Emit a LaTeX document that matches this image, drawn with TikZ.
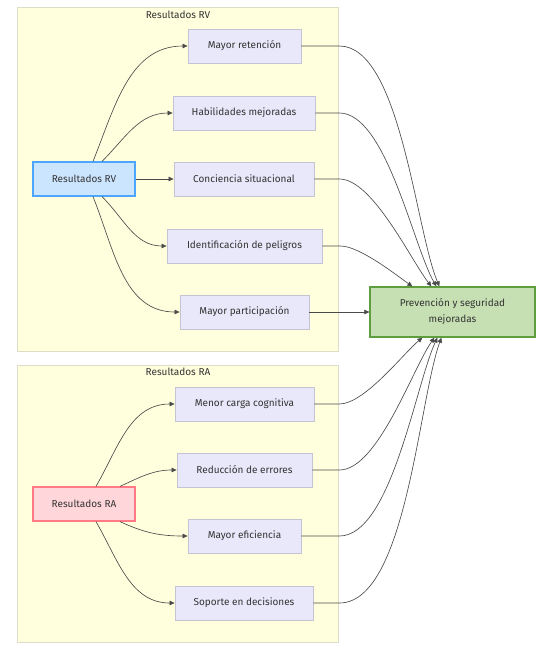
\documentclass[tikz,border=0pt]{standalone}
\usepackage{fontspec}
\setmainfont{Fira Sans}
\usepackage{tikz}
\usetikzlibrary{arrows.meta,calc}
\definecolor{grupofill}{HTML}{FFFFDE}
\definecolor{grupoline}{HTML}{DEDEC8}
\definecolor{nodofill}{HTML}{E8E8FA}
\definecolor{nodoline}{HTML}{C4C4D4}
\definecolor{rvfill}{HTML}{CCE5FF}
\definecolor{rvline}{HTML}{4DA6FF}
\definecolor{rafill}{HTML}{FFD6D9}
\definecolor{raline}{HTML}{FF7A85}
\definecolor{prevfill}{HTML}{C6E0B4}
\definecolor{prevline}{HTML}{5E9E3E}
\definecolor{texto}{HTML}{333333}
\definecolor{linea}{HTML}{4A4A4A}

\begin{document}
\begin{tikzpicture}[x=1pt,y=-1pt,font=\fontsize{10}{12.5}\selectfont,text=texto,
grupo/.style={fill=grupofill,draw=grupoline,line width=0.8pt},
nodo/.style={rectangle,draw=nodoline,fill=nodofill,line width=0.8pt,minimum width=#1,minimum height=34pt,inner sep=0pt},
flecha/.style={draw=linea,line width=0.65pt,-{Triangle[length=5pt,width=4.5pt]}}]
\path[use as bounding box] (0,0) rectangle (543,649);
% grupos
\draw[grupo] (17,7) rectangle (338,351);
\node at (178,15) {Resultados RV};
\draw[grupo] (17,365) rectangle (338,642);
\node at (178,372) {Resultados RA};
% nodos
\node[nodo=102pt,fill=rvfill,draw=rvline,line width=1.2pt] (rv) at (84,179) {Resultados RV};
\node[nodo=102pt,fill=rafill,draw=raline,line width=1.2pt] (ra) at (84,504) {Resultados RA};
\node[nodo=113pt] (ret) at (244.5,46) {Mayor retención};
\node[nodo=142pt] (hab) at (244,113) {Habilidades mejoradas};
\node[nodo=140pt] (con) at (244,179) {Conciencia situacional};
\node[nodo=155pt] (pel) at (244.5,246) {Identificación de peligros};
\node[nodo=129pt] (par) at (244.5,312) {Mayor participación};
\node[nodo=139pt] (car) at (244.5,404) {Menor carga cognitiva};
\node[nodo=135pt] (err) at (244.5,470) {Reducción de errores};
\node[nodo=113pt] (efi) at (244.5,536) {Mayor eficiencia};
\node[nodo=138pt] (sop) at (244,603) {Soporte en decisiones};
\node[nodo=165pt,minimum height=50pt,fill=prevfill,draw=prevline,line width=1.2pt,align=center,font=\fontsize{10}{16}\selectfont] (prev) at (452.5,312) {Prevención y seguridad\\mejoradas};
% RV hacia la derecha
\draw[flecha] ($(rv.north)+(9,0)$) to[out=68,in=180] (ret.west);
\draw[flecha] ($(rv.north)+(18,0)$) to[out=45,in=180] (hab.west);
\draw[flecha] (rv.east) -- (con.west);
\draw[flecha] ($(rv.south)+(18,0)$) to[out=-45,in=180] (pel.west);
\draw[flecha] ($(rv.south)+(9,0)$) to[out=-68,in=180] (par.west);
% RA hacia la derecha
\draw[flecha] ($(ra.north)+(12,0)$) to[out=60,in=180] (car.west);
\draw[flecha] ($(ra.north)+(36,0)$) to[out=25,in=180] (err.west);
\draw[flecha] ($(ra.south)+(36,0)$) to[out=-25,in=180] (efi.west);
\draw[flecha] ($(ra.south)+(12,0)$) to[out=-60,in=180] (sop.west);
% hacia prevencion
\draw[flecha] (ret.east) -- ++(38,0) to[out=0,in=113,looseness=0.6] ($(prev.north west)+(70,0)$);
\draw[flecha] (hab.east) -- ++(24,0) to[out=0,in=120,looseness=0.6] ($(prev.north west)+(67,0)$);
\draw[flecha] (con.east) -- ++(25,0) to[out=0,in=128,looseness=0.6] ($(prev.north west)+(62,0)$);
\draw[flecha] (pel.east) -- ++(18,0) to[out=0,in=145,looseness=0.6] ($(prev.north west)+(43,0)$);
\draw[flecha] (par.east) -- (prev.west);
\draw[flecha] (car.east) -- ++(25,0) to[out=0,in=-140,looseness=0.6] ($(prev.south west)+(53,0)$);
\draw[flecha] (err.east) -- ++(27,0) to[out=0,in=-125,looseness=0.6] ($(prev.south west)+(65,0)$);
\draw[flecha] (efi.east) -- ++(38,0) to[out=0,in=-115,looseness=0.6] ($(prev.south west)+(68,0)$);
\draw[flecha] (sop.east) -- ++(26,0) to[out=0,in=-110,looseness=0.6] ($(prev.south west)+(72,0)$);
\end{tikzpicture}
\end{document}
